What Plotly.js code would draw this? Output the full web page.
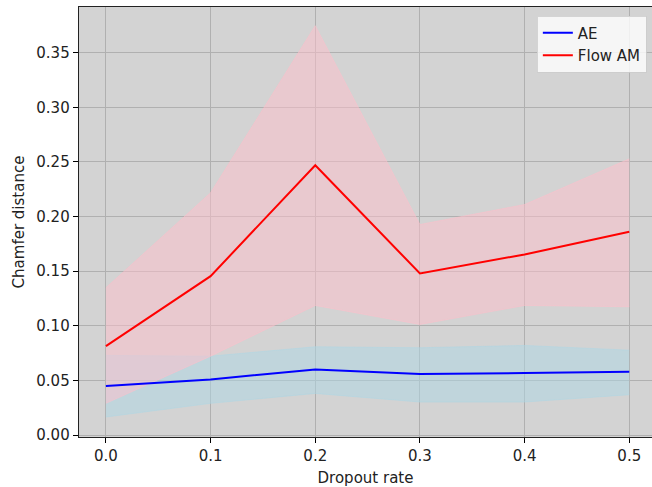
<!DOCTYPE html>
<html>
<head>
<meta charset="utf-8">
<script src="https://cdn.plot.ly/plotly-3.0.1.min.js"></script>
<style>html,body{margin:0;padding:0;background:#fff;}#chart{width:652px;height:487px;}</style>
</head>
<body>
<div id="chart"></div>
<script>
const dropout = [0.0, 0.1, 0.2, 0.3, 0.4, 0.5];
const aeMean = [0.0448, 0.0509, 0.0601, 0.0558, 0.0567, 0.0580];
const aeLower = [0.0165, 0.0290, 0.0381, 0.0302, 0.0302, 0.0369];
const aeUpper = [0.0729, 0.0722, 0.0808, 0.0799, 0.0820, 0.0777];
const flowMean = [0.0814, 0.1454, 0.2470, 0.1479, 0.1653, 0.1860];
const flowLower = [0.0290, 0.0722, 0.1186, 0.1012, 0.1186, 0.1174];
const flowUpper = [0.1348, 0.2217, 0.3747, 0.1927, 0.2110, 0.2528];
const seriesNames = ['AE', 'Flow AM'];
const xTitle = 'Dropout rate';
const yTitle = 'Chamfer distance';

const blueFill = 'rgba(173,216,230,0.5)';
const pinkFill = 'rgba(255,192,203,0.5)';

const traces = [
  {x: dropout, y: aeLower, mode: 'lines', line: {color: blueFill, width: 1}, showlegend: false, hoverinfo: 'skip'},
  {x: dropout, y: aeUpper, mode: 'lines', line: {color: blueFill, width: 1}, fill: 'tonexty', fillcolor: blueFill, showlegend: false, hoverinfo: 'skip'},
  {x: dropout, y: flowLower, mode: 'lines', line: {color: pinkFill, width: 1}, showlegend: false, hoverinfo: 'skip'},
  {x: dropout, y: flowUpper, mode: 'lines', line: {color: pinkFill, width: 1}, fill: 'tonexty', fillcolor: pinkFill, showlegend: false, hoverinfo: 'skip'},
  {x: dropout, y: aeMean, mode: 'lines', name: seriesNames[0], line: {color: 'blue', width: 2}},
  {x: dropout, y: flowMean, mode: 'lines', name: seriesNames[1], line: {color: 'red', width: 2}}
];

const font = {family: 'DejaVu Sans, sans-serif', size: 15, color: '#222'};
const layout = {
  width: 652, height: 487,
  margin: {l: 79, r: 0, t: 7, b: 50, pad: 0},
  paper_bgcolor: '#ffffff',
  plot_bgcolor: '#d3d3d3',
  font: font,
  showlegend: true,
  legend: {
    x: 0.991, y: 0.98, xanchor: 'right', yanchor: 'top',
    traceorder: 'normal',
    bgcolor: 'rgba(255,255,255,0.8)', bordercolor: 'rgba(204,204,204,0.8)', borderwidth: 1,
    font: {family: 'DejaVu Sans, sans-serif', size: 15, color: '#222'},
    tracegroupgap: 2
  },
  xaxis: {
    range: [-0.0257, 0.5217],
    tickvals: dropout,
    ticktext: dropout.map(v => v.toFixed(1)),
    ticks: 'outside', ticklen: 5, tickwidth: 1, tickcolor: '#000',
    showgrid: true, gridcolor: '#b0b0b0', gridwidth: 1,
    zeroline: false,
    showline: true, linecolor: '#222', linewidth: 1.3, mirror: true,
    title: {text: xTitle, font: font, standoff: 8},
    tickfont: font
  },
  yaxis: {
    range: [-0.0018, 0.3918],
    tickvals: [0, 0.05, 0.1, 0.15, 0.2, 0.25, 0.3, 0.35],
    ticktext: ['0.00', '0.05', '0.10', '0.15', '0.20', '0.25', '0.30', '0.35'],
    ticks: 'outside', ticklen: 5, tickwidth: 1, tickcolor: '#000',
    showgrid: true, gridcolor: '#b0b0b0', gridwidth: 1,
    zeroline: false,
    showline: true, linecolor: '#222', linewidth: 1.3, mirror: true,
    title: {text: yTitle, font: font, standoff: 8},
    tickfont: font
  }
};

Plotly.newPlot('chart', traces, layout, {displayModeBar: false, staticPlot: true});
</script>
</body>
</html>
